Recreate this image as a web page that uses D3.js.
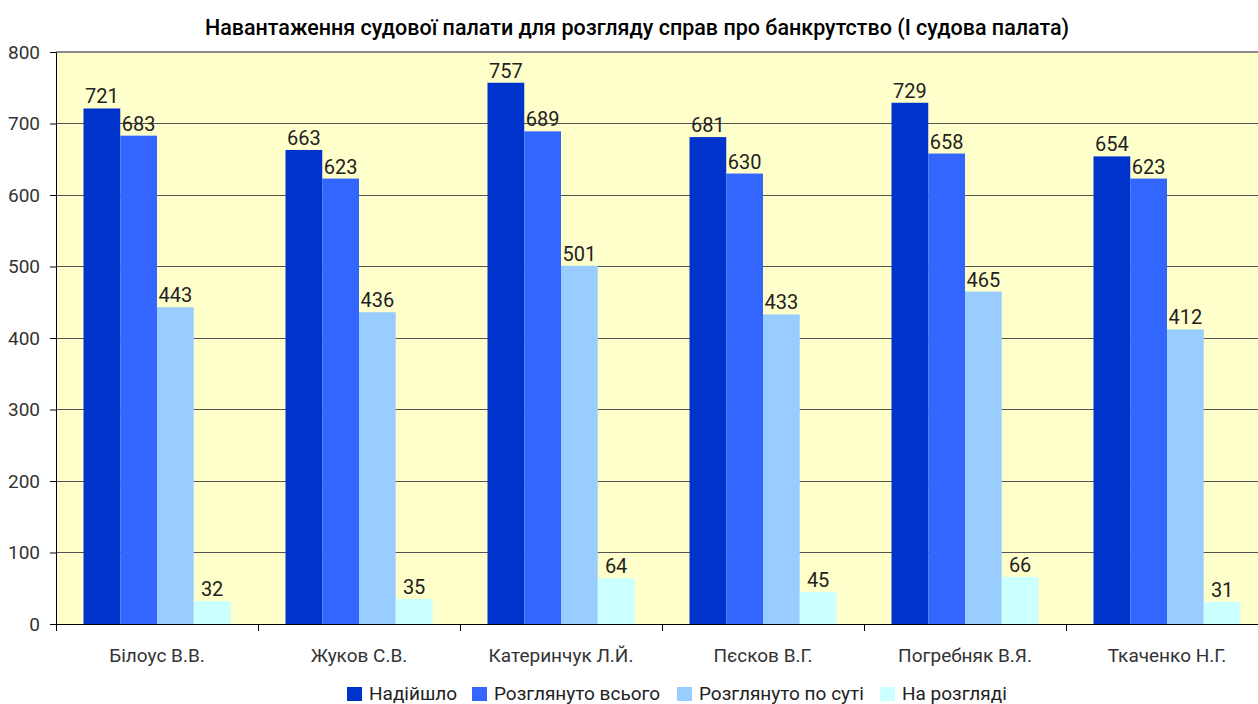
<!DOCTYPE html>
<html>
<head>
<meta charset="utf-8">
<script src="https://cdn.jsdelivr.net/npm/d3@7"></script>
<style>
  body { margin: 0; background: #fff; }
  svg text { font-family: Roboto, "Noto Sans", sans-serif; }
</style>
</head>
<body>
<div id="chart"></div>
<script>
const judges = ["Білоус В.В.", "Жуков С.В.", "Катеринчук Л.Й.", "Пєсков В.Г.", "Погребняк В.Я.", "Ткаченко Н.Г."];
const seriesNames = ["Надійшло", "Розглянуто всього", "Розглянуто по суті", "На розгляді"];
const received = [721, 663, 757, 681, 729, 654];
const reviewedTotal = [683, 623, 689, 630, 658, 623];
const reviewedMerits = [443, 436, 501, 433, 465, 412];
const pending = [32, 35, 64, 45, 66, 31];
const yTicks = [0, 100, 200, 300, 400, 500, 600, 700, 800];
const colors = ["#0033cc", "#3366ff", "#99ccff", "#ccffff"];

const seriesValues = [received, reviewedTotal, reviewedMerits, pending];
const rows = judges.map((name, i) => ({
  name,
  values: seriesNames.map((s, k) => ({ key: s, value: seriesValues[k][i] }))
}));

const W = 1258, H = 704;
const margin = { top: 52, right: -10, bottom: 80, left: 56 };
const width = W - margin.left - margin.right,
  height = H - margin.top - margin.bottom;

const svg = d3.select("#chart").append("svg")
  .attr("width", W).attr("height", H);

svg.append("text")
  .attr("x", 637).attr("y", 35)
  .attr("text-anchor", "middle")
  .style("font-size", "21.5px")
  .style("font-weight", 500)
  .attr("fill", "#000")
  .text("Навантаження судової палати для розгляду справ про банкрутство (І судова палата)");

const g = svg.append("g").attr("transform", `translate(${margin.left},${margin.top})`);

const x0 = d3.scaleBand().domain(judges).range([0, width]).paddingInner(0).paddingOuter(0);
const x1 = d3.scaleBand().domain(seriesNames).range([27.5, x0.bandwidth() - 27.5]);
const y = d3.scaleLinear().domain([0, 800]).range([height, 0]);
const color = d3.scaleOrdinal().domain(seriesNames).range(colors);

g.append("rect").attr("width", width).attr("height", height).attr("fill", "#ffffcc");

// gridlines
g.append("g").selectAll("line")
  .data(yTicks.filter(d => d > 0))
  .join("line")
  .attr("x1", 0).attr("x2", width)
  .attr("y1", d => y(d)).attr("y2", d => y(d))
  .attr("stroke", d => d === 800 ? "#888" : "#555")
  .attr("stroke-width", d => d === 800 ? 2 : 1)
  .attr("shape-rendering", "crispEdges");

const groups = g.append("g").selectAll("g")
  .data(rows)
  .join("g")
  .attr("transform", d => `translate(${x0(d.name)},0)`);

groups.selectAll("rect")
  .data(d => d.values)
  .join("rect")
  .attr("x", d => x1(d.key))
  .attr("y", d => y(d.value))
  .attr("width", x1.bandwidth())
  .attr("height", d => y(0) - y(d.value))
  .attr("fill", d => color(d.key));

groups.selectAll("text")
  .data(d => d.values)
  .join("text")
  .attr("x", d => x1(d.key) + x1.bandwidth() / 2)
  .attr("y", d => y(d.value) - 5)
  .attr("text-anchor", "middle")
  .style("font-size", "20px")
  .attr("fill", "#222")
  .text(d => d.value);

// axes
const yAxis = g.append("g")
  .call(d3.axisLeft(y).tickValues(yTicks).tickSize(6).tickSizeOuter(0));
yAxis.select(".domain").attr("stroke", "#000");
yAxis.selectAll(".tick line").attr("stroke", "#000");
yAxis.selectAll(".tick text").style("font-size", "19px").attr("fill", "#333").attr("x", -16);

const xAxis = g.append("g")
  .attr("transform", `translate(0,${height})`)
  .call(d3.axisBottom(x0).tickSize(0).tickSizeOuter(0));
xAxis.select(".domain").attr("stroke", "#000");
xAxis.selectAll(".tick text").style("font-size", "19px").attr("fill", "#333").attr("dy", 0).attr("y", 38);

g.append("g").selectAll("line")
  .data(judges)
  .join("line")
  .attr("x1", d => x0(d)).attr("x2", d => x0(d))
  .attr("y1", height).attr("y2", height + 7)
  .attr("stroke", "#000")
  .attr("shape-rendering", "crispEdges");

// legend
const legendItems = [
  { name: seriesNames[0], x: 347 },
  { name: seriesNames[1], x: 472 },
  { name: seriesNames[2], x: 677 },
  { name: seriesNames[3], x: 880 }
];
const legend = svg.append("g").attr("transform", "translate(0,700)");
const li = legend.selectAll("g").data(legendItems).join("g")
  .attr("transform", d => `translate(${d.x},0)`);
li.append("rect").attr("y", -13).attr("width", 15).attr("height", 14)
  .attr("fill", d => color(d.name));
li.append("text").attr("x", 22).attr("y", 0)
  .style("font-size", "19px").attr("fill", "#222")
  .text(d => d.name);
</script>
</body>
</html>
